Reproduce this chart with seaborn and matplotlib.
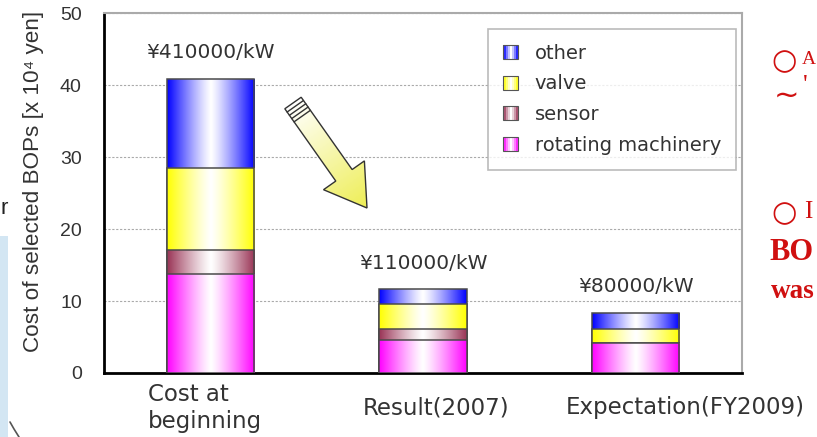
import numpy as np
import pandas as pd
import matplotlib
matplotlib.use("Agg")
import matplotlib.pyplot as plt
import matplotlib.patches as mpatches
from matplotlib.colors import to_rgb
from matplotlib.legend_handler import HandlerBase
import seaborn as sns

# data (x 10^4 yen)
categories = ["Cost at\nbeginning", "Result(2007)", "Expectation(FY2009)"]
rotating = [13.75, 4.55, 4.1]
sensor = [3.3, 1.55, 0.1]
valve = [11.45, 3.5, 1.85]
other = [12.4, 2.0, 2.25]
cost_labels = ["¥410000/kW", "¥110000/kW", "¥80000/kW"]

components = ["rotating machinery", "sensor", "valve", "other"]
colors = {"rotating machinery": "#ff00ff", "sensor": "#993355",
          "valve": "#ffff00", "other": "#0000ff"}

df = pd.DataFrame({"category": categories, "rotating machinery": rotating,
                   "sensor": sensor, "valve": valve, "other": other})
df_cum = df.copy()
df_cum[components] = df[components].cumsum(axis=1)

sns.set_style("white")
plt.rcParams["font.family"] = ["DejaVu Sans"]
arial = ["Liberation Sans", "DejaVu Sans"]

fig, ax = plt.subplots(figsize=(8.17, 4.37), dpi=100)
fig.subplots_adjust(left=0.1273, right=0.908, bottom=0.1465, top=0.970)


def gradient(color, n=256):
    t = np.linspace(0, 1, n)
    mix = np.abs(2 * t - 1) ** 1.2
    rgb = np.array(to_rgb(color))
    return (1 - mix)[:, None] + mix[:, None] * rgb


# stacked bars: draw cumulative totals from tallest to shortest
z = 2
for comp in components[::-1]:
    n0 = len(ax.patches)
    sns.barplot(data=df_cum, x="category", y=comp, color=colors[comp],
                width=0.41, saturation=1, errorbar=None, ax=ax)
    for p in ax.patches[n0:]:
        x0, y0, w, h = p.get_x(), p.get_y(), p.get_width(), p.get_height()
        img = ax.imshow(gradient(colors[comp])[None, :, :],
                        extent=[x0, x0 + w, y0, y0 + h], aspect="auto",
                        zorder=z, interpolation="bilinear")
        img.set_clip_path(p)
        p.set_facecolor("none")
        p.set_edgecolor("#4a4a4a")
        p.set_linewidth(1.1)
        p.set_zorder(z + 0.5)
    z += 1

totals = df_cum["other"].values
for i, (tot, lab) in enumerate(zip(totals, cost_labels)):
    ax.annotate(lab, xy=(i, tot), xytext=(0, 19), textcoords="offset points",
                ha="center", va="center", fontsize=14.5, color="#333333",
                zorder=8,
                bbox=dict(facecolor="white", edgecolor="none", pad=2.5))

ax.set_xlim(-0.5, 2.5)
ax.set_ylim(0, 50)
ax.set_yticks(range(0, 51, 10))
ax.set_axisbelow(True)
ax.yaxis.grid(True, color="#aaaaaa", linestyle=(0, (2, 1.5)), linewidth=0.8)
ax.set_xlabel("")
ax.set_ylabel("Cost of selected BOPs [x 10⁴ yen]", fontsize=16.2,
              family=arial, color="#333333")
ax.yaxis.set_label_coords(-0.094, 0.533)

# the labels sit a little right of their bars in the original
label_shift = np.array([-0.025, 0.06, 0.235])
ax.set_xticks(np.arange(3) + label_shift)
ax.set_xticklabels(categories, va="center", multialignment="left",
                   fontsize=16.5, color="#333333")
ax.set_xticks([0.5, 1.5], minor=True)
ax.tick_params(axis="x", which="major", length=0, pad=25)
ax.tick_params(axis="x", which="minor", direction="in", length=7, width=1.5,
               color="black")
ax.tick_params(axis="y", direction="in", length=7, width=1.5, color="black",
               labelsize=14, pad=16)
for t in ax.get_yticklabels():
    t.set_family(arial)
    t.set_color("#333333")

for side in ["left", "bottom"]:
    ax.spines[side].set_color("black")
    ax.spines[side].set_linewidth(2)
for side in ["top", "right"]:
    ax.spines[side].set_color("#aaaaaa")
    ax.spines[side].set_linewidth(1.5)


class GradientHandler(HandlerBase):
    def create_artists(self, legend, orig_handle, xdescent, ydescent,
                       width, height, fontsize, trans):
        rgb = np.array(orig_handle.get_facecolor()[:3])
        n = 7
        arts = []
        for k in range(n):
            mix = abs(2 * (k + 0.5) / n - 1) ** 1.2
            c = (1 - mix) + mix * rgb
            arts.append(mpatches.Rectangle((-xdescent + k * width / n, -ydescent),
                                           width / n, height, facecolor=c,
                                           edgecolor="none", transform=trans))
        arts.append(mpatches.Rectangle((-xdescent, -ydescent), width, height,
                                       fill=False, edgecolor="#555555",
                                       linewidth=0.8, transform=trans))
        return arts


handles = [mpatches.Patch(facecolor=colors[c], label=c) for c in components[::-1]]
leg = ax.legend(handles=handles, loc="upper right",
                bbox_to_anchor=(0.991, 0.957), fontsize=14,
                handler_map={mpatches.Patch: GradientHandler()},
                handlelength=0.75, handleheight=0.75, handletextpad=0.85,
                labelspacing=0.6, borderpad=0.78, borderaxespad=0,
                fancybox=False, frameon=True)
leg.get_frame().set_edgecolor("#aaaaaa")
leg.get_frame().set_linewidth(1.2)
for t in leg.get_texts():
    t.set_color("#333333")
leg.set_zorder(9)

# yellow arrow between the first and second bar (pixel coordinates overlay)
ax2 = fig.add_axes([270 / 817, 1 - 220 / 437, 120 / 817, 140 / 437])
ax2.set_xlim(270, 390)
ax2.set_ylim(220, 80)
ax2.axis("off")
ax2.patch.set_visible(False)
tail = np.array([293.0, 103.0])
tip = np.array([367.0, 208.0])
vec = tip - tail
length = np.hypot(*vec)
u = vec / length
arrow = mpatches.FancyArrow(tail[0], tail[1], vec[0], vec[1], width=20,
                            head_width=50, head_length=40,
                            length_includes_head=True, facecolor="none",
                            edgecolor="#333333", linewidth=1.0, zorder=3)
ax2.add_patch(arrow)
X, Y = np.meshgrid(np.linspace(270, 390, 120), np.linspace(80, 220, 140))
g = np.clip(((X - tail[0]) * u[0] + (Y - tail[1]) * u[1]) / length, 0, 1)
yel = np.array(to_rgb("#eeee55"))
arr_img = (1 - g)[..., None] * np.ones(3) + g[..., None] * yel
im2 = ax2.imshow(arr_img, extent=(270, 390, 220, 80), origin="upper",
                 aspect="auto", zorder=2)
im2.set_clip_path(arrow)
perp = np.array([-u[1], u[0]])
for d in [4, 8, 12, 16]:
    c0 = tail + u * d
    p1, p2 = c0 + perp * 10, c0 - perp * 10
    ax2.plot([p1[0], p2[0]], [p1[1], p2[1]], color="#333333", lw=1.0, zorder=4)

# slide fragments around the chart
red = "#d01010"
serif = ["Liberation Serif", "DejaVu Serif"]


def ftext(x, y, s, **kw):
    fig.text(x / 817, 1 - y / 437, s, color=red, va="center", ha="left", **kw)


ftext(771, 61, "○", fontsize=21, family=["DejaVu Sans"])
ftext(802, 60, "A", fontsize=14, family=serif)
ftext(774, 96, "~", fontsize=22, family=["DejaVu Sans"])
ftext(803, 86, "'", fontsize=19, family=serif)
ftext(771, 213, "○", fontsize=21, family=["DejaVu Sans"])
ftext(804, 212, "I", fontsize=18, family=serif)
ftext(769, 253, "BO", fontsize=22, family=serif, weight="bold")
ftext(771, 292, "was", fontsize=19.5, family=serif, weight="bold")
fig.text(4 / 817, 1 - 209 / 437, "r", color="#222222", fontsize=16,
         family=arial, va="center", ha="center")
fig.patches.append(mpatches.Rectangle((0, 0), 8 / 817, 1 - 236 / 437,
                                      transform=fig.transFigure,
                                      facecolor="#d3e6f3", edgecolor="none"))
fig.lines.append(plt.Line2D([10 / 817, 14 / 817, 19 / 817],
                            [1 - 422 / 437, 1 - 429 / 437, 1 - 437 / 437],
                            transform=fig.transFigure, color="#555555", lw=1.2))

plt.savefig("out.png", dpi=100)
plt.close()
print("saved out.png")
